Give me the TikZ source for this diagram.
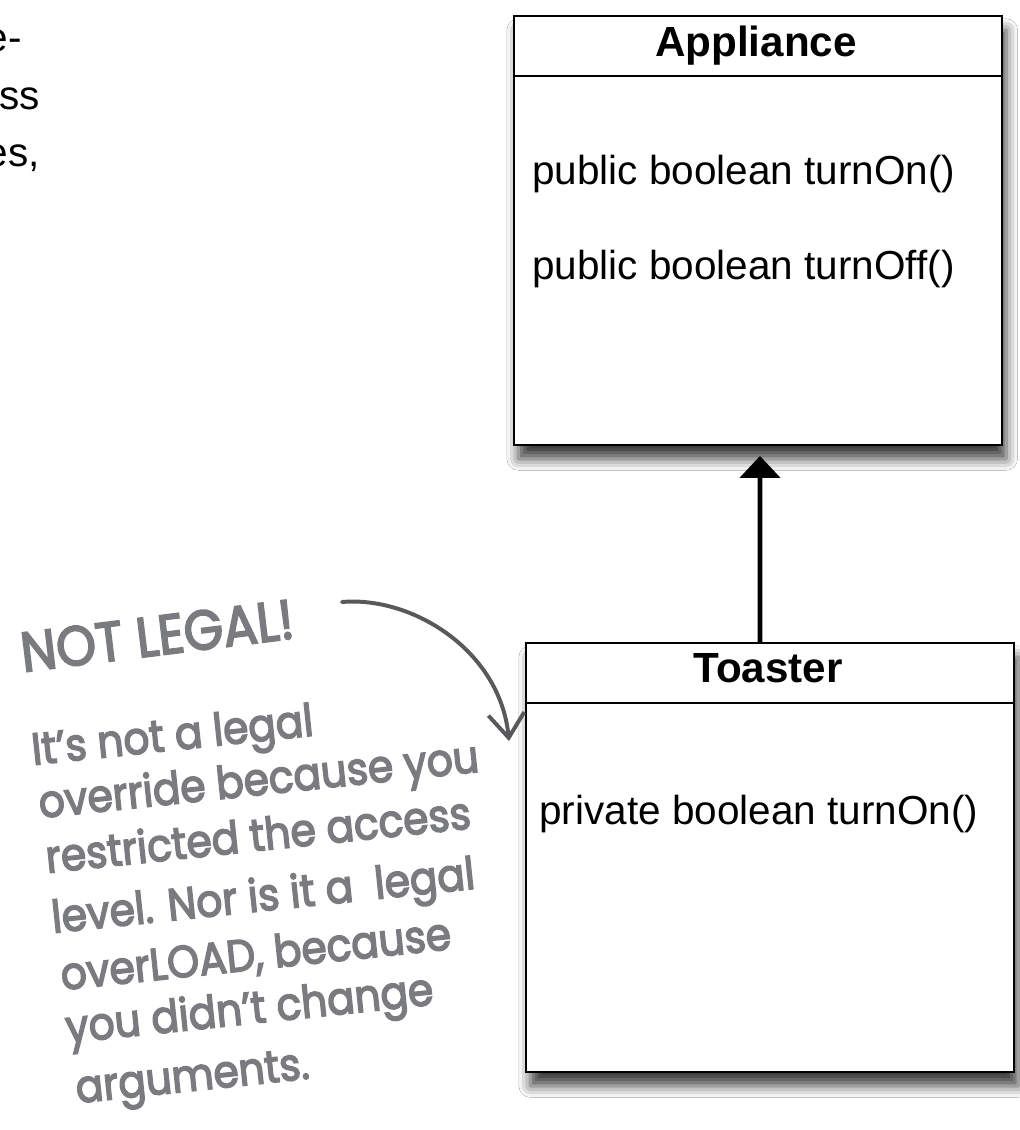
\documentclass[tikz,border=0pt]{standalone}
\usepackage{fontspec}
\setmainfont{Liberation Sans}
\newfontfamily\handfont{Poppins}[FakeBold=3.5]
\usepackage{xcolor}
\usetikzlibrary{arrows.meta,calc,shadows.blur}
\definecolor{penGray}{HTML}{7A7B7F}
\definecolor{inkGray}{HTML}{58595B}
\tikzstyle{tsClassBox} = [
    rectangle,
    draw=black,
    line width=1.4pt,
    fill=white,
    minimum width=12.2cm,
    minimum height=10.725cm,
    blur shadow={shadow xshift=3pt, shadow yshift=-10pt,
                 shadow blur radius=8pt, shadow opacity=75}
]
\tikzstyle{tsClassName} = [
    text=black,
    font=\bfseries\fontsize{30}{36}\selectfont,
    anchor=base,
    inner sep=0pt
]
\tikzstyle{tsMethod} = [
    text=black,
    font=\fontsize{28.8}{34}\selectfont,
    anchor=base west,
    inner sep=0pt
]
\tikzstyle{tsBodyText} = [
    tsMethod,
    anchor=base east
]
\tikzstyle{tsScribble} = [
    text=penGray,
    font=\handfont\fontsize{29}{32}\selectfont,
    anchor=base west,
    inner sep=0pt,
    rotate=6,
    yscale=1.1
]

\begin{document}
\begin{tikzpicture}
        \useasboundingbox (0,0) rectangle (25.5,28.25);
        \clip (0,0) rectangle (25.5,28.25);
        \fill[white] (0,0) rectangle (25.5,28.25);

        % body text cut off at the left edge
        \node[tsBodyText] (txtA) at (0.55,26.95) {e-};
        \node[tsBodyText] (txtB) at (1.0,25.5) {ss};
        \node[tsBodyText] (txtC) at (1.0,24.075) {es,};

        % super class
        \node[tsClassBox] (appliance) at (18.95,22.4875) { };
        \draw[line width=1.4pt] ([yshift=-1.525cm]appliance.north west) -- ([yshift=-1.525cm]appliance.north east);
        \node[tsClassName] (applianceName) at (18.9,26.825) {Appliance};
        \node[tsMethod] (turnOn) at (13.3,23.625) {public boolean turnOn()};
        \node[tsMethod] (turnOff) at (13.3,21.25) {public boolean turnOff()};

        % sub class
        \node[tsClassBox] (toaster) at (19.25,6.8125) { };
        \draw[line width=1.4pt] ([yshift=-1.525cm]toaster.north west) -- ([yshift=-1.525cm]toaster.north east);
        \node[tsClassName] (toasterName) at (19.2,11.175) {Toaster};
        \node[tsMethod] (privTurnOn) at (13.475,7.625) {private boolean turnOn()};

        % inheritance
        \draw[line width=3.5pt, -{Triangle[width=1cm,length=0.55cm]}, shorten >=0.25cm]
            ([xshift=-0.25cm]toaster.north) -- ([xshift=0.05cm]appliance.south);

        % handwritten remark
        \node[tsScribble, rotate=1, font=\handfont\fontsize{36}{40}\selectfont] (notLegal) at (0.575,11.45) {NOT LEGAL!};
        \node[tsScribble] (lineA) at (0.825,9.125) {It’s not a legal};
        \node[tsScribble] (lineB) at (1.0,7.8) {override because you};
        \node[tsScribble] (lineC) at (1.175,6.425) {restricted the access};
        \node[tsScribble] (lineD) at (1.325,4.925) {level. Nor is it a\ \ legal};
        \node[tsScribble] (lineE) at (1.55,3.5) {overLOAD, because};
        \node[tsScribble] (lineF) at (1.675,2.175) {you didn’t change};
        \node[tsScribble] (lineG) at (1.925,0.675) {arguments.};

        \coordinate (remarkTail) at (8.55,13.2);
        \coordinate (remarkHead) at ([shift={(-0.4,-2.475)}]toaster.north west);
        \draw[inkGray, line width=2.8pt, line cap=round, -{Straight Barb[length=0.6cm,width=0.9cm]}]
            (remarkTail) .. controls (10.3,13.35) and (12.5,12.0) .. (remarkHead);

\end{tikzpicture}
\end{document}
